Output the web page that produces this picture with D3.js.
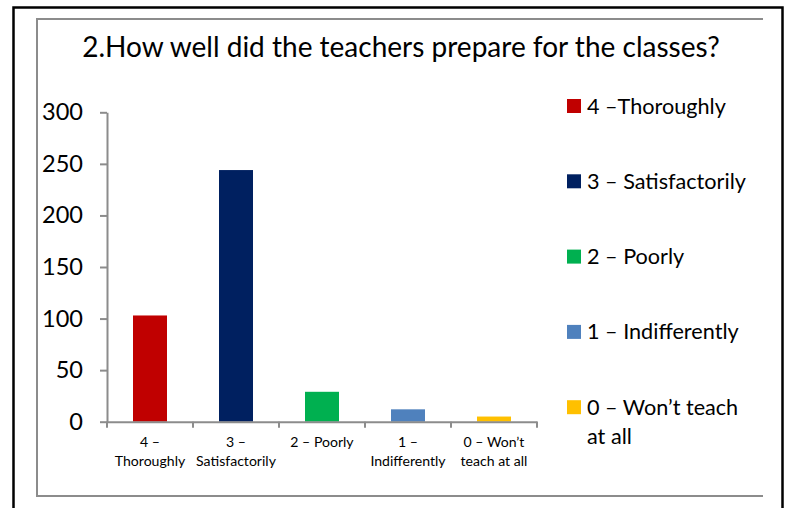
<!DOCTYPE html>
<html><head><meta charset="utf-8">
<script src="https://cdn.jsdelivr.net/npm/d3@7/dist/d3.min.js"></script>
<style>body{margin:0;background:#fff;} svg{display:block;} text{font-family:Lato, "Open Sans", sans-serif;}</style>
</head><body><svg id="c" width="788" height="508"></svg>
<script>
const title = "2.How well did the teachers prepare for the classes?";
const categories = ["4", "3", "2", "1", "0"];
const axisLabels = [["4 –", "Thoroughly"], ["3 –", "Satisfactorily"], ["2 – Poorly"], ["1 –", "Indifferently"], ["0 – Won’t", "teach at all"]];
const legendLabels = [["4 –Thoroughly"], ["3 – Satisfactorily"], ["2 – Poorly"], ["1 – Indifferently"], ["0 – Won’t teach", "at all"]];
const values = [103, 244, 29, 12, 5];
const colors = ["#C00000", "#002060", "#00B050", "#4F81BD", "#FFC000"];
const yTicks = [0, 50, 100, 150, 200, 250, 300];

const svg = d3.select("#c");
const fit = (str, target, fam) => {
  const t = svg.append("text").attr("font-size", 100).text(str);
  const w = t.node().getComputedTextLength(); t.remove();
  return 100 * target / w;
};

// frames
svg.append("rect").attr("x", 13.5).attr("y", 7.5).attr("width", 769).attr("height", 520)
  .attr("fill", "none").attr("stroke", "#000").attr("stroke-width", 2.5);
const gf = svg.append("g").attr("stroke", "#8c8c8c").attr("stroke-width", 2).attr("fill", "none");
gf.append("path").attr("d", "M763,19H37V496H763");

// title
const tfs = fit(title, 638);
svg.append("text").attr("x", 401).attr("y", 57).attr("text-anchor", "middle")
  .attr("font-size", tfs).attr("fill", "#000").text(title);

// scales
const x = d3.scaleBand().domain(categories).range([107, 537]).paddingInner(0.6).paddingOuter(0.3);
const xb = d3.scaleBand().domain(categories).range([107, 537]);
const y = d3.scaleLinear().domain([0, 300]).range([421.7, 112.3]);

// bars
svg.append("g").selectAll("rect").data(values).join("rect")
  .attr("x", (d, i) => xb(categories[i]) + xb.bandwidth() / 2 - 17)
  .attr("width", 34)
  .attr("y", d => y(d)).attr("height", d => y(0) - y(d))
  .attr("fill", (d, i) => colors[i]);

// y axis
const yfs = fit("300", 41);
const ya = svg.append("g").attr("transform", "translate(107,0)")
  .call(d3.axisLeft(y).tickValues(yTicks).tickSize(7).tickPadding(17).tickSizeOuter(0));
ya.select(".domain").attr("stroke", "#8c8c8c").attr("stroke-width", 2);
ya.selectAll(".tick line").attr("stroke", "#8c8c8c").attr("stroke-width", 2);
ya.selectAll(".tick text").attr("font-size", yfs).attr("fill", "#000").attr("font-family", "Lato, sans-serif");

// x axis
const xa = svg.append("g").attr("transform", "translate(0,421.7)")
  .call(d3.axisBottom(xb).tickValues([]).tickSizeOuter(0));
xa.select(".domain").attr("stroke", "#8c8c8c").attr("stroke-width", 2);
const edges = categories.map(c => xb(c)).concat([537]);
xa.selectAll(".edge").data(edges).join("line").attr("class", "edge")
  .attr("x1", d => d).attr("x2", d => d).attr("y1", 0).attr("y2", 6)
  .attr("stroke", "#8c8c8c").attr("stroke-width", 2);
const xfs = fit("Satisfactorily", 80);
const xl = svg.append("g").selectAll("text").data(axisLabels).join("text")
  .attr("text-anchor", "middle").attr("font-size", xfs).attr("fill", "#000")
  .attr("x", (d, i) => xb(categories[i]) + xb.bandwidth() / 2).attr("y", 447);
xl.selectAll("tspan").data(d => d).join("tspan")
  .attr("x", function () { return this.parentNode.getAttribute("x"); })
  .attr("dy", (d, i) => i === 0 ? 0 : 19).text(d => d);

// legend
const lfs = fit("3 – Satisfactorily", 159);
const lg = svg.append("g").selectAll("g").data(legendLabels).join("g")
  .attr("transform", (d, i) => `translate(567,${106 + i * 75.3})`);
lg.append("rect").attr("x", 0).attr("y", -7).attr("width", 14).attr("height", 14)
  .attr("fill", (d, i) => colors[i]);
const lt = lg.append("text").attr("x", 20).attr("y", 0).attr("font-size", lfs).attr("fill", "#000");
lt.selectAll("tspan").data(d => d).join("tspan").attr("x", 20)
  .attr("dy", (d, i) => i === 0 ? "0.35em" : 29).text(d => d);
</script></body></html>
